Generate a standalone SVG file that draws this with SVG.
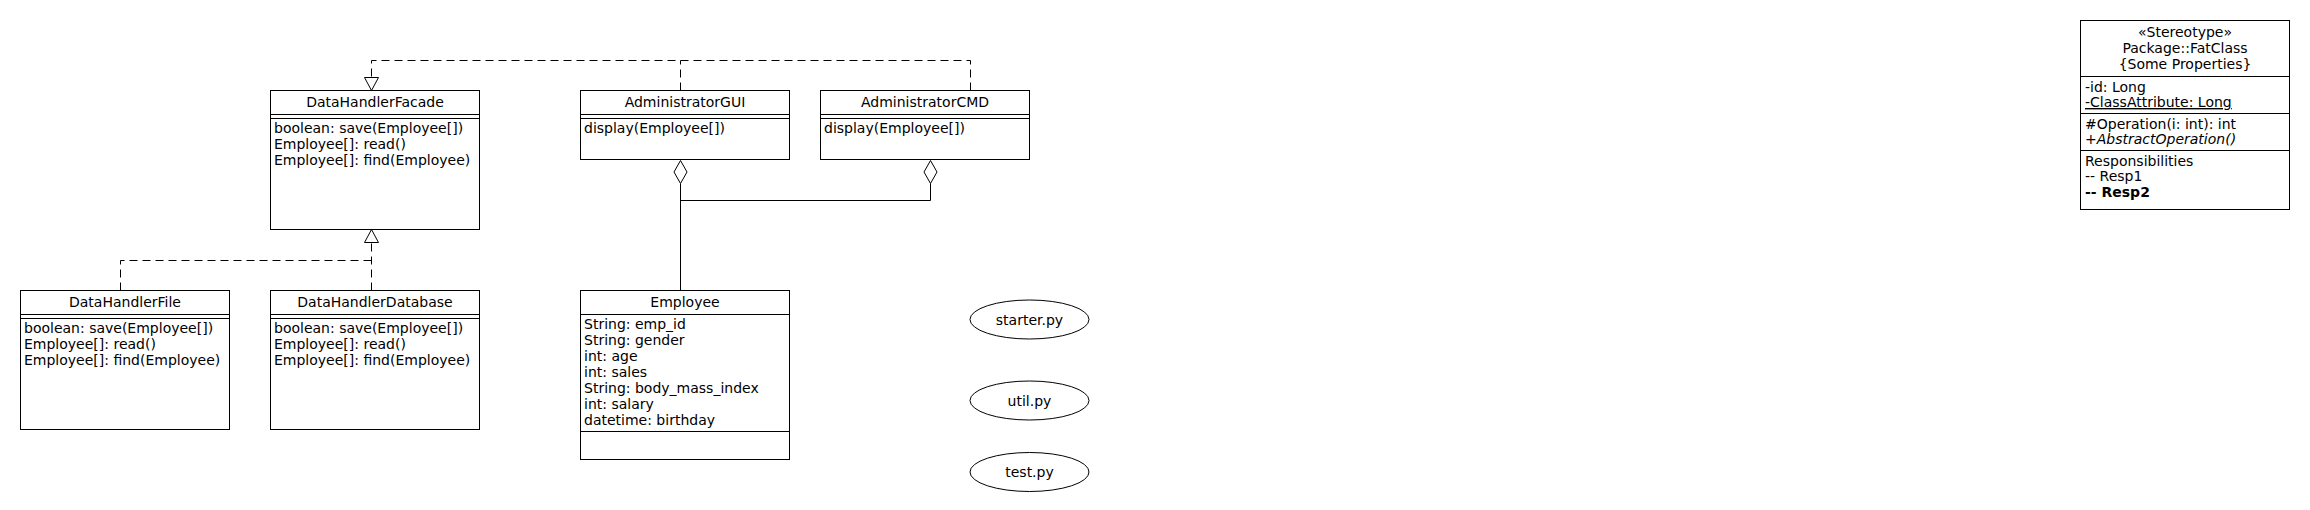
<svg xmlns="http://www.w3.org/2000/svg" width="2310" height="510" viewBox="0 0 2310 510">
<style>
  text { font-family: "DejaVu Sans", "Liberation Sans", sans-serif; font-size: 14px; fill: #000; }
  .c { text-anchor: middle; }
  .box { fill: #fff; stroke: #000; stroke-width: 1; }
  .ln { stroke: #000; stroke-width: 1; fill: none; }
  .dash { stroke: #000; stroke-width: 1; fill: none; stroke-dasharray: 8,5; }
  .tri { fill: #fff; stroke: #000; stroke-width: 1; }
</style>
<rect width="2310" height="510" fill="#fff"/>

<g id="connectors">
  <!-- realization from AdministratorGUI / AdministratorCMD to DataHandlerFacade -->
  <path class="dash" d="M970.5,90.5 V60.5 H371.5 V77.5"/>
  <path class="dash" d="M680.5,90.5 V60.5"/>
  <polygon class="tri" points="371.5,90.5 364.5,77.5 378.5,77.5"/>
  <!-- realization from DataHandlerFile / DataHandlerDatabase to DataHandlerFacade -->
  <path class="dash" d="M120.5,290.5 V260.5 H371.5"/>
  <path class="dash" d="M371.5,290.5 V242.5"/>
  <polygon class="tri" points="371.5,229.5 364.5,242.5 378.5,242.5"/>
  <!-- aggregations -->
  <path class="ln" d="M680.5,183.5 V290.5"/>
  <path class="ln" d="M930.5,183.5 V200.5 H680.5"/>
  <polygon class="tri" points="680.5,160.5 687,172 680.5,183.5 674,172"/>
  <polygon class="tri" points="930.5,160.5 937,172 930.5,183.5 924,172"/>
</g>

<g id="DataHandlerFacade">
  <rect class="box" x="270.5" y="90.5" width="209" height="139"/>
  <path class="ln" d="M270.5,114.5 H479.5 M270.5,118.5 H479.5"/>
  <text class="c" x="375" y="107">DataHandlerFacade</text>
  <text x="274" y="133">boolean: save(Employee[])</text>
  <text x="274" y="149">Employee[]: read()</text>
  <text x="274" y="165">Employee[]: find(Employee)</text>
</g>

<g id="AdministratorGUI">
  <rect class="box" x="580.5" y="90.5" width="209" height="69"/>
  <path class="ln" d="M580.5,114.5 H789.5 M580.5,118.5 H789.5"/>
  <text class="c" x="685" y="107">AdministratorGUI</text>
  <text x="584" y="133">display(Employee[])</text>
</g>

<g id="AdministratorCMD">
  <rect class="box" x="820.5" y="90.5" width="209" height="69"/>
  <path class="ln" d="M820.5,114.5 H1029.5 M820.5,118.5 H1029.5"/>
  <text class="c" x="925" y="107">AdministratorCMD</text>
  <text x="824" y="133">display(Employee[])</text>
</g>

<g id="DataHandlerFile">
  <rect class="box" x="20.5" y="290.5" width="209" height="139"/>
  <path class="ln" d="M20.5,314.5 H229.5 M20.5,318.5 H229.5"/>
  <text class="c" x="125" y="307">DataHandlerFile</text>
  <text x="24" y="333">boolean: save(Employee[])</text>
  <text x="24" y="349">Employee[]: read()</text>
  <text x="24" y="365">Employee[]: find(Employee)</text>
</g>

<g id="DataHandlerDatabase">
  <rect class="box" x="270.5" y="290.5" width="209" height="139"/>
  <path class="ln" d="M270.5,314.5 H479.5 M270.5,318.5 H479.5"/>
  <text class="c" x="375" y="307">DataHandlerDatabase</text>
  <text x="274" y="333">boolean: save(Employee[])</text>
  <text x="274" y="349">Employee[]: read()</text>
  <text x="274" y="365">Employee[]: find(Employee)</text>
</g>

<g id="Employee">
  <rect class="box" x="580.5" y="290.5" width="209" height="169"/>
  <path class="ln" d="M580.5,314.5 H789.5 M580.5,431.5 H789.5"/>
  <text class="c" x="685" y="307">Employee</text>
  <text x="584" y="329">String: emp_id</text>
  <text x="584" y="345">String: gender</text>
  <text x="584" y="361">int: age</text>
  <text x="584" y="377">int: sales</text>
  <text x="584" y="393">String: body_mass_index</text>
  <text x="584" y="409">int: salary</text>
  <text x="584" y="425">datetime: birthday</text>
</g>

<g id="starter">
  <ellipse class="box" cx="1029.5" cy="319.5" rx="59.5" ry="19.5"/>
  <text class="c" x="1029.5" y="324.5">starter.py</text>
</g>
<g id="util">
  <ellipse class="box" cx="1029.5" cy="400.5" rx="59.5" ry="19.5"/>
  <text class="c" x="1029.5" y="405.5">util.py</text>
</g>
<g id="test">
  <ellipse class="box" cx="1029.5" cy="472" rx="59.5" ry="19.5"/>
  <text class="c" x="1029.5" y="477">test.py</text>
</g>

<g id="FatClass">
  <rect class="box" x="2080.5" y="20.5" width="209" height="189"/>
  <path class="ln" d="M2080.5,76.5 H2289.5 M2080.5,113.5 H2289.5 M2080.5,150.5 H2289.5"/>
  <text class="c" x="2185" y="37">«Stereotype»</text>
  <text class="c" x="2185" y="53">Package::FatClass</text>
  <text class="c" x="2185" y="69">{Some Properties}</text>
  <text x="2085" y="92">-id: Long</text>
  <text x="2085" y="107" text-decoration="underline">-ClassAttribute: Long</text>
  <text x="2085" y="128.5">#Operation(i: int): int</text>
  <text x="2085" y="144">+<tspan font-style="italic">AbstractOperation()</tspan></text>
  <text x="2085" y="166">Responsibilities</text>
  <text x="2085" y="181">-- Resp1</text>
  <text x="2085" y="197" font-weight="bold">-- Resp2</text>
</g>
</svg>
